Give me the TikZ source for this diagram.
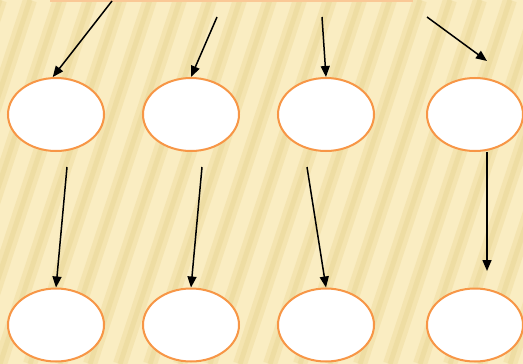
\documentclass[tikz,border=0pt]{standalone}
\usetikzlibrary{shapes.geometric,arrows.meta}
\begin{document}
\begin{tikzpicture}[x=1pt,y=-1pt,>={Triangle[length=11pt,width=9pt]}]
%Define all colors here.

\definecolor{bgfill}{RGB}{250,237,194}
\definecolor{bgstripe}{RGB}{244,228,176}
\definecolor{bgstripedark}{RGB}{238,221,163}
\definecolor{topfill}{RGB}{250,200,150}
\definecolor{edraw}{RGB}{247,150,70}
\definecolor{efill}{RGB}{255,255,255}

\tikzset{oval/.style={ellipse, draw=edraw, fill=efill, line width=2pt, minimum width=96pt, minimum height=73pt, inner sep=0pt}}
\tikzset{link/.style={->, line width=1.5pt, black}}

\useasboundingbox (0,0) rectangle (523,364);
\begin{scope}
\clip (0,0) rectangle (523,364);
\fill[bgfill] (0,0) rectangle (523,364);
\foreach \i in {-6,...,20}
{
\draw[bgstripe, line width=14pt] (\i*30,364) -- (\i*30+120,0);
\draw[bgstripedark, line width=5pt] (\i*30,364) -- (\i*30+120,0);
}
\end{scope}

\node(top) at (231.5,-3) [rectangle, fill=topfill, minimum width=363pt, minimum height=9pt, inner sep=0pt] {};

\node(u1) at (56,114.5) [oval] {};
\node(u2) at (191,114.5) [oval] {};
\node(u3) at (326,114.5) [oval] {};
\node(u4) at (475,114.5) [oval] {};

\node(d1) at (56,325) [oval] {};
\node(d2) at (191,325) [oval] {};
\node(d3) at (326,325) [oval] {};
\node(d4) at (475,325) [oval] {};

\coordinate(s1) at (112,1);
\coordinate(s2) at (217,17);
\coordinate(s3) at (322,17);
\coordinate(s4) at (427,17);
\coordinate(t4) at (487,61);

\coordinate(m1) at (67,167);
\coordinate(m2) at (202,167);
\coordinate(m3) at (307,167);
\coordinate(m4) at (487,152);
\coordinate(n4) at (487,271);

\draw[link] (s1) -- (u1.95);
\draw[link] (s2) -- (u2.north);
\draw[link] (s3) -- (u3.north);
\draw[link] (s4) -- (t4);

\draw[link] (m1) -- (d1.north);
\draw[link] (m2) -- (d2.north);
\draw[link] (m3) -- (d3.north);
\draw[link] (m4) -- (n4);
\end{tikzpicture}
\end{document}
